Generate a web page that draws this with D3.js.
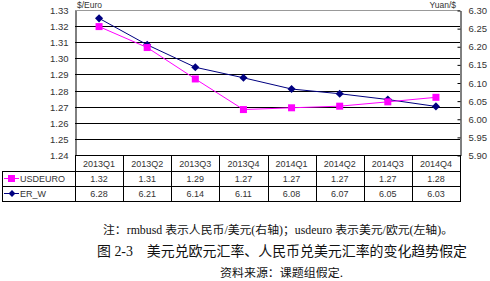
<!DOCTYPE html>
<html>
<head>
<meta charset="utf-8">
<script src="https://cdn.jsdelivr.net/npm/d3@7"></script>
<style>
  body { margin: 0; background: #fff; }
  svg text { font-family: "Liberation Sans", Arial, sans-serif; }
</style>
</head>
<body>
<div id="chart"></div>
<script>
const quarters = ["2013Q1", "2013Q2", "2013Q3", "2013Q4", "2014Q1", "2014Q2", "2014Q3", "2014Q4"];
const usdeuro = [1.3197, 1.3067, 1.2872, 1.2682, 1.2693, 1.2703, 1.2730, 1.2758];
const erw = [6.277, 6.204, 6.142, 6.113, 6.082, 6.069, 6.053, 6.034];
const usdeuroLabels = ["1.32", "1.31", "1.29", "1.27", "1.27", "1.27", "1.27", "1.28"];
const erwLabels = ["6.28", "6.21", "6.14", "6.11", "6.08", "6.07", "6.05", "6.03"];
const leftTicks = [1.24, 1.25, 1.26, 1.27, 1.28, 1.29, 1.30, 1.31, 1.32, 1.33];
const rightTicks = [5.90, 5.95, 6.00, 6.05, 6.10, 6.15, 6.20, 6.25, 6.30];

const svgWidth = 490, svgHeight = 281;
const plot = { left: 75, right: 460, top: 10, bottom: 155 };
const rowH = [16, 15, 15];
const tableLeft = 2;
const pink = "#ff00ff", navy = "#000080";

const svg = d3.select("#chart").append("svg")
    .attr("width", svgWidth)
    .attr("height", svgHeight);

const x = d3.scaleBand()
    .domain(quarters)
    .range([plot.left, plot.right]);

const yLeft = d3.scaleLinear()
    .domain([1.24, 1.33])
    .range([plot.bottom, plot.top]);

const yRight = d3.scaleLinear()
    .domain([5.90, 6.30])
    .range([plot.bottom, plot.top]);

// gridlines
svg.append("g")
    .selectAll("line")
    .data(leftTicks)
    .enter()
    .append("line")
    .attr("x1", plot.left)
    .attr("x2", plot.right)
    .attr("y1", d => Math.round(yLeft(d)) + 0.5)
    .attr("y2", d => Math.round(yLeft(d)) + 0.5)
    .attr("stroke", d => d === 1.33 ? "#999" : "#000")
    .attr("stroke-width", 1);

// left axis
const axL = svg.append("g")
    .attr("transform", "translate(" + (plot.left + 0.5) + ",0.5)")
    .call(d3.axisLeft(yLeft).tickValues(leftTicks).tickFormat(d3.format(".2f")).tickSize(0).tickPadding(7));
axL.select(".domain").attr("stroke", "#000");
axL.selectAll("text").attr("font-size", 9.5).attr("fill", "#333");

// right axis
const axR = svg.append("g")
    .attr("transform", "translate(" + (plot.right + 0.5) + ",0.5)")
    .call(d3.axisRight(yRight).tickValues(rightTicks).tickFormat(d3.format(".2f")).tickSizeInner(-3).tickSizeOuter(0).tickPadding(8));
axR.select(".domain").attr("stroke", "#000");
axR.selectAll(".tick line").attr("stroke", "#000");
axR.selectAll("text").attr("font-size", 9.5).attr("fill", "#333");

// axis titles
svg.append("text").attr("x", plot.left + 2).attr("y", 8)
    .attr("font-size", 8.5).attr("fill", "#333").text("$/Euro");
svg.append("text").attr("x", plot.right - 4).attr("y", 8)
    .attr("text-anchor", "end").attr("font-size", 8.5).attr("fill", "#333").text("Yuan/$");

const cx = d => x(d) + x.bandwidth() / 2;

// lines
const lineL = d3.line().x((d, i) => cx(quarters[i])).y(d => yLeft(d));
const lineR = d3.line().x((d, i) => cx(quarters[i])).y(d => yRight(d));

svg.append("path").datum(erw)
    .attr("d", lineR).attr("fill", "none").attr("stroke", navy).attr("stroke-width", 1);
svg.append("path").datum(usdeuro)
    .attr("d", lineL).attr("fill", "none").attr("stroke", pink).attr("stroke-width", 1);

svg.append("g").selectAll("path")
    .data(erw).enter().append("path")
    .attr("d", d3.symbol().type(d3.symbolDiamond2).size(42))
    .attr("transform", (d, i) => "translate(" + cx(quarters[i]) + "," + yRight(d) + ")")
    .attr("fill", navy);

svg.append("g").selectAll("rect")
    .data(usdeuro).enter().append("rect")
    .attr("x", (d, i) => cx(quarters[i]) - 3.5)
    .attr("y", d => yLeft(d) - 3.5)
    .attr("width", 7).attr("height", 7)
    .attr("fill", pink);

// data table
const r0 = plot.bottom, r1 = r0 + rowH[0], r2 = r1 + rowH[1], r3 = r2 + rowH[2];
const table = svg.append("g").attr("stroke", "#000").attr("stroke-width", 1).attr("shape-rendering", "crispEdges");
[r0, r1, r2, r3].forEach((yy, i) => {
  table.append("line")
      .attr("x1", i < 2 && i === 0 ? plot.left : tableLeft).attr("x2", plot.right + 1)
      .attr("y1", yy + 0.5).attr("y2", yy + 0.5);
});
quarters.concat(["end"]).forEach((q, i) => {
  const xx = q === "end" ? plot.right : x(q);
  table.append("line")
      .attr("x1", xx + 0.5).attr("x2", xx + 0.5)
      .attr("y1", r0).attr("y2", r3);
});
table.append("line")
    .attr("x1", tableLeft + 0.5).attr("x2", tableLeft + 0.5)
    .attr("y1", r1).attr("y2", r3);

const cellText = (yy, labels) => svg.append("g").selectAll("text")
    .data(labels).enter().append("text")
    .attr("x", (d, i) => cx(quarters[i]))
    .attr("y", yy)
    .attr("text-anchor", "middle")
    .attr("font-size", 9)
    .attr("fill", "#333")
    .text(d => d);

cellText(r0 + 11.5, quarters);
cellText(r1 + 11, usdeuroLabels);
cellText(r2 + 11, erwLabels);

// legend keys in table
const ky1 = r1 + 7.5, ky2 = r2 + 7.5;
svg.append("line").attr("x1", tableLeft + 2).attr("x2", tableLeft + 17)
    .attr("y1", ky1).attr("y2", ky1).attr("stroke", pink);
svg.append("rect").attr("x", tableLeft + 6).attr("y", ky1 - 3.5).attr("width", 7).attr("height", 7).attr("fill", pink);
svg.append("text").attr("x", tableLeft + 18).attr("y", r1 + 11).attr("font-size", 9).attr("fill", "#333").text("USDEURO");
svg.append("line").attr("x1", tableLeft + 2).attr("x2", tableLeft + 17)
    .attr("y1", ky2).attr("y2", ky2).attr("stroke", navy);
svg.append("path").attr("d", d3.symbol().type(d3.symbolDiamond2).size(30))
    .attr("transform", "translate(" + (tableLeft + 10) + "," + ky2 + ")").attr("fill", navy);
svg.append("text").attr("x", tableLeft + 18).attr("y", r2 + 11).attr("font-size", 9).attr("fill", "#333").text("ER_W");

// captions
const cap = svg.append("g").attr("fill", "#111");
cap.append("text")
    .attr("x", 103).attr("y", 234)
    .attr("font-size", 11.5)
    .style("font-family", "'Liberation Serif', 'Noto Sans CJK SC', serif")
    .attr("textLength", 350).attr("lengthAdjust", "spacingAndGlyphs")
    .text("注：rmbusd 表示人民币/美元(右轴)；usdeuro 表示美元/欧元(左轴)。");
cap.append("text")
    .attr("x", 97).attr("y", 256)
    .attr("font-size", 14)
    .style("font-family", "'Liberation Serif', 'Noto Sans CJK SC', serif")
    .attr("textLength", 370).attr("lengthAdjust", "spacingAndGlyphs")
    .text("图 2-3　美元兑欧元汇率、人民币兑美元汇率的变化趋势假定");
cap.append("text")
    .attr("x", 220).attr("y", 277)
    .attr("font-size", 11.5)
    .style("font-family", "'Noto Sans CJK SC', sans-serif")
    .attr("textLength", 123).attr("lengthAdjust", "spacingAndGlyphs")
    .text("资料来源：课题组假定.");
</script>
</body>
</html>
